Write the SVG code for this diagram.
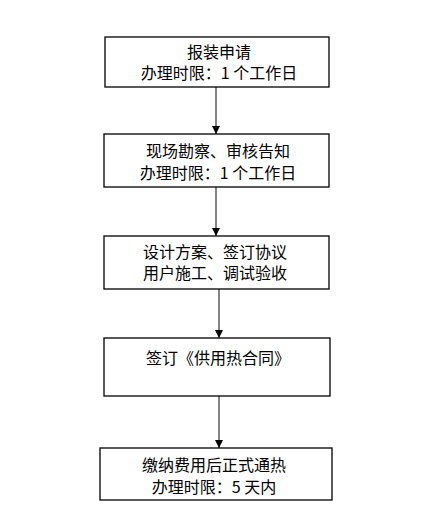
<svg xmlns="http://www.w3.org/2000/svg" width="430" height="525" viewBox="0 0 430 525">
<defs>
<style>
.box{fill:#fff;stroke:#000;stroke-width:1.3}
.t{font-family:"Noto Sans CJK SC","Noto Sans",sans-serif;font-size:16px;fill:#000;text-anchor:middle}
.c{stroke:#333;stroke-width:1.2;fill:none}
</style>
<marker id="ah" viewBox="0 0 8 8" refX="8" refY="4" markerWidth="8" markerHeight="8" markerUnits="userSpaceOnUse" orient="auto">
<path d="M0,0 L8,4 L0,8 Z" fill="#000"/>
</marker>
</defs>
<rect width="430" height="525" fill="#fff"/>
<g id="connectors">
<line class="c" x1="216" y1="87" x2="216" y2="134" marker-end="url(#ah)"/>
<line class="c" x1="216" y1="187" x2="216" y2="236" marker-end="url(#ah)"/>
<line class="c" x1="219" y1="289" x2="219" y2="338" marker-end="url(#ah)"/>
<line class="c" x1="219" y1="396" x2="219" y2="448" marker-end="url(#ah)"/>
</g>
<g id="n1">
<rect class="box" x="105" y="37" width="224" height="50"/>
<text class="t" x="219" y="58">报装申请</text>
<text class="t" x="219" y="79">办理时限：1 个工作日</text>
</g>
<g id="n2">
<rect class="box" x="104" y="134" width="225" height="53"/>
<text class="t" x="218" y="157">现场勘察、审核告知</text>
<text class="t" x="218" y="179">办理时限：1 个工作日</text>
</g>
<g id="n3">
<rect class="box" x="104" y="236" width="225" height="53"/>
<text class="t" x="215" y="258">设计方案、签订协议</text>
<text class="t" x="215" y="279">用户施工、调试验收</text>
</g>
<g id="n4">
<rect class="box" x="104" y="338" width="226" height="58"/>
<text class="t" x="218" y="364">签订《供用热合同》</text>
</g>
<g id="n5">
<rect class="box" x="100" y="448" width="232" height="52"/>
<text class="t" x="214" y="471">缴纳费用后正式通热</text>
<text class="t" x="214" y="493">办理时限：5 天内</text>
</g>
</svg>
